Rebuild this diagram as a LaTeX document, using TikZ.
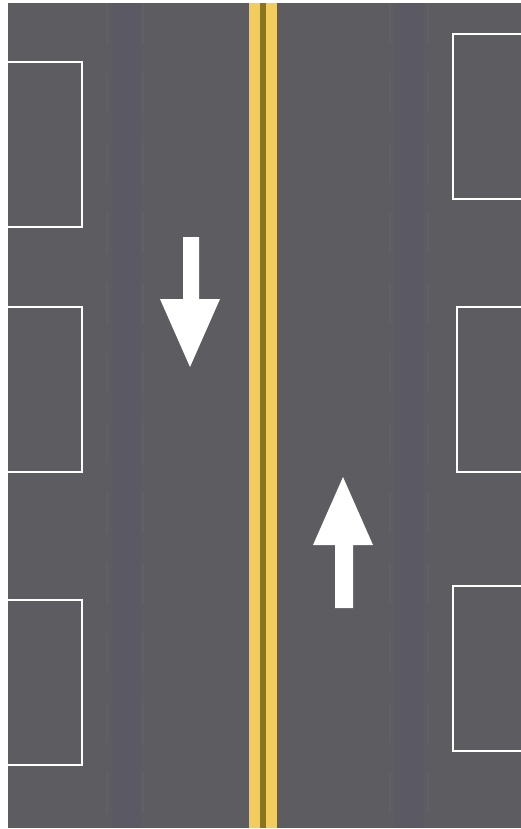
\documentclass[tikz,border=0pt]{standalone}
\usepackage{tikz}

\definecolor{asphalt}{HTML}{5C5C61}
\definecolor{lanetone}{HTML}{5B5A64}
\definecolor{centreyel}{HTML}{F2CC5C}
\definecolor{centregap}{HTML}{8A7420}

\begin{document}
\begin{tikzpicture}[x=1pt, y=-1pt, >=latex]
  \useasboundingbox (0, 0) rectangle (521, 829);
  \fill[white] (0, 0) rectangle (521, 829);

  % road surface
  \begin{scope}
    \fill[asphalt] (8, 3) rectangle (521, 828);
    \foreach \x in {112, 395}
      \fill[lanetone] (\x, 3) rectangle +(29, 825);
    \foreach \x in {107, 143, 390, 428}
      \draw[white, opacity=0.03, line width=1.5, dash pattern=on 40 off 30] (\x, 3) -- +(0, 825);
  \end{scope}

  % double centre line
  \fill[centregap] (260, 3) rectangle (267, 828);
  \foreach \x in {249, 266}
    \fill[centreyel] (\x, 3) rectangle +(11, 825);

  % parking bays
  \begin{scope}[line width=2.5, white]
    \foreach \y in {62, 307, 600}
      \draw (8, \y) -- (82, \y) -- (82, \y+165) -- (8, \y+165);
    \foreach \x/\y in {453/34, 457/307, 453/586}
      \draw (521, \y) -- (\x, \y) -- (\x, \y+165) -- (521, \y+165);
  \end{scope}

  % lane arrows
  \fill[white] (183, 237) -- (199, 237) -- (199, 299) -- (220, 299)
    -- (190, 367) -- (160, 299) -- (183, 299) -- cycle;
  \fill[white] (335, 608) -- (353, 608) -- (353, 545) -- (373, 545)
    -- (343, 477) -- (313, 545) -- (335, 545) -- cycle;
\end{tikzpicture}
\end{document}
